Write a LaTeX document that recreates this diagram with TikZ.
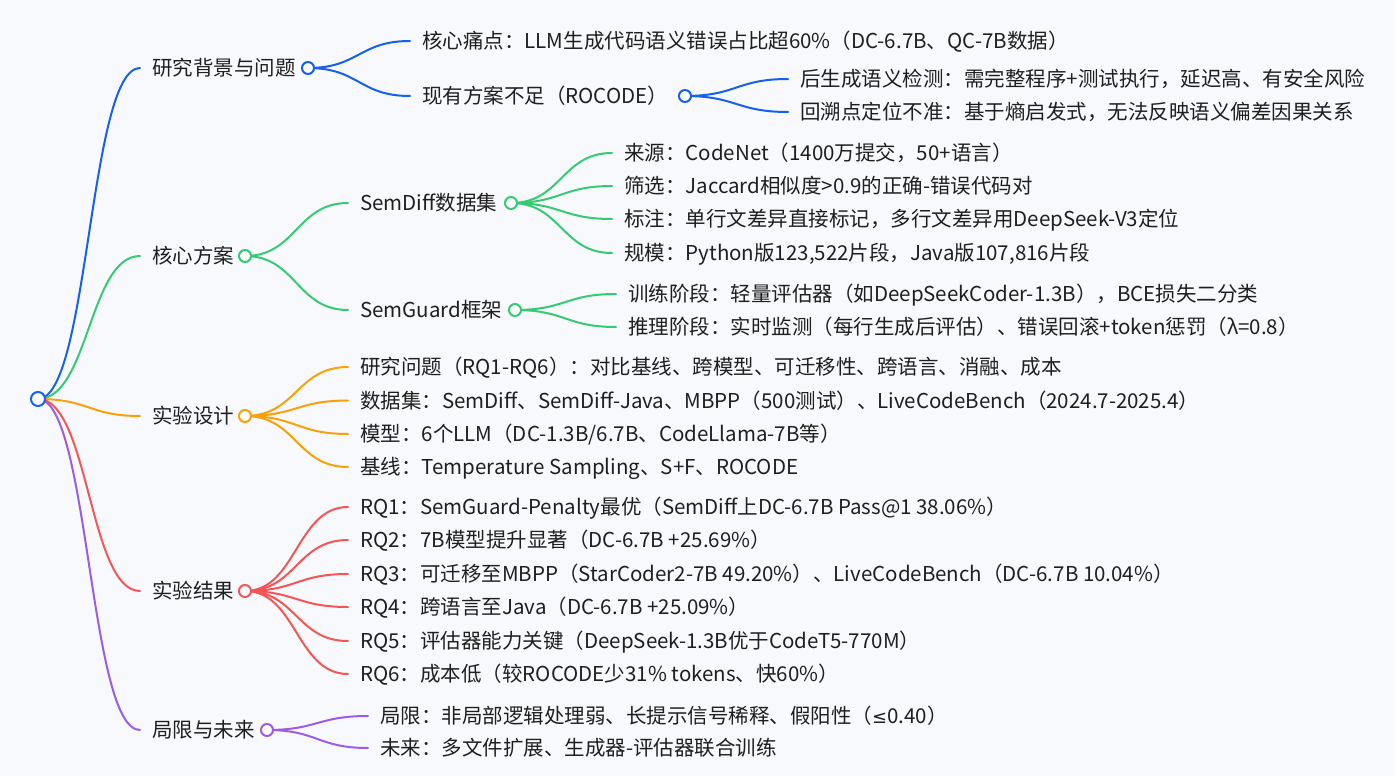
\documentclass[tikz,border=0pt]{standalone}
\usepackage{fontspec}
\setmainfont{Noto Sans CJK SC}
\newfontfamily\symf{DejaVu Sans}
\usetikzlibrary{calc}
\definecolor{bg}{HTML}{F8F9FC}
\definecolor{txt}{HTML}{1F1F1F}
\definecolor{cblue}{HTML}{1660F0}
\definecolor{cgreen}{HTML}{35CB72}
\definecolor{corange}{HTML}{FAA00A}
\definecolor{cred}{HTML}{F45555}
\definecolor{cpurple}{HTML}{9D5CE6}
\newcommand\mmlink[3]{\draw[lnk=#1] let \p1=(#2), \p2=(#3) in (\p1) .. controls ({(\x1+\x2)/2},\y1) and ({(\x1+\x2)/2},\y2) .. (\p2);}
\begin{document}
\begin{tikzpicture}[x=1pt,y=-1pt,
  lbl/.style={anchor=west,inner sep=0pt,font=\fontsize{20.5}{24}\selectfont,text=txt,text height=16pt,text depth=0.5pt},
  knob/.style={circle,draw=#1,fill=white,line width=2pt,minimum size=12pt,inner sep=0pt},
  lnk/.style={draw=#1,line width=2pt,line cap=round}]
\fill[bg] (0,0) rectangle (1395,776);
\useasboundingbox (0,0) rectangle (1395,776);

% level 1
\node[lbl] (n1) at (152,68) {研究背景与问题};
\node[lbl] (n2) at (152,256) {核心方案};
\node[lbl] (n3) at (152,416) {实验设计};
\node[lbl] (n4) at (152,591) {实验结果};
\node[lbl] (n5) at (152,730) {局限与未来};

% level 2
\node[lbl] (n11) at (422,41) {核心痛点：LLM生成代码语义错误占比超60\%（DC-6.7B、QC-7B数据）};
\node[lbl] (n12) at (422,96) {现有方案不足（ROCODE）};
\node[lbl] (n121) at (800,79) {后生成语义检测：需完整程序+测试执行，延迟高、有安全风险};
\node[lbl] (n122) at (800,112) {回溯点定位不准：基于熵启发式，无法反映语义偏差因果关系};

\node[lbl] (n21) at (360,203) {SemDiff数据集};
\node[lbl] (n211) at (624,153) {来源：CodeNet（1400万提交，50+语言）};
\node[lbl] (n212) at (624,186) {筛选：Jaccard相似度>0.9的正确-错误代码对};
\node[lbl] (n213) at (624,219) {标注：单行文差异直接标记，多行文差异用DeepSeek-V3定位};
\node[lbl] (n214) at (624,253) {规模：Python版123,522片段，Java版107,816片段};
\node[lbl] (n22) at (360,310) {SemGuard框架};
\node[lbl] (n221) at (628,294) {训练阶段：轻量评估器（如DeepSeekCoder-1.3B），BCE损失二分类};
\node[lbl] (n222) at (628,327) {推理阶段：实时监测（每行生成后评估）、错误回滚+token惩罚（λ=0.8）};

\node[lbl] (n31) at (360,367) {研究问题（RQ1-RQ6）：对比基线、跨模型、可迁移性、跨语言、消融、成本};
\node[lbl] (n32) at (360,400.5) {数据集：SemDiff、SemDiff-Java、MBPP（500测试）、LiveCodeBench（2024.7-2025.4）};
\node[lbl] (n33) at (360,434) {模型：6个LLM（DC-1.3B/6.7B、CodeLlama-7B等）};
\node[lbl] (n34) at (360,467) {基线：Temperature Sampling、S+F、ROCODE};

\node[lbl] (n41) at (360,507) {RQ1：SemGuard-Penalty最优（SemDiff上DC-6.7B Pass@1 38.06\%）};
\node[lbl] (n42) at (360,540) {RQ2：7B模型提升显著（DC-6.7B +25.69\%）};
\node[lbl] (n43) at (360,574) {RQ3：可迁移至MBPP（StarCoder2-7B 49.20\%）、LiveCodeBench（DC-6.7B 10.04\%）};
\node[lbl] (n44) at (360,607) {RQ4：跨语言至Java（DC-6.7B +25.09\%）};
\node[lbl] (n45) at (360,641) {RQ5：评估器能力关键（DeepSeek-1.3B优于CodeT5-770M）};
\node[lbl] (n46) at (360,674) {RQ6：成本低（较ROCODE少31\% tokens、快60\%）};

\node[lbl] (n51) at (380,716) {局限：非局部逻辑处理弱、长提示信号稀释、假阳性（{\symf\fontsize{18}{22}\selectfont ≤}0.40）};
\node[lbl] (n52) at (380,748) {未来：多文件扩展、生成器-评估器联合训练};

% circle centres
\coordinate (c0) at (38,399);
\coordinate (c1) at (308,68);
\coordinate (c2) at (245,256);
\coordinate (c3) at (245,416);
\coordinate (c4) at (245,591);
\coordinate (c5) at (267,730);
\coordinate (c12) at (685,96);
\coordinate (c21) at (511,203);
\coordinate (c22) at (515,310);

% link ends
\foreach \n in {n1,n2,n3,n4,n5,n11,n12,n121,n122,n21,n211,n212,n213,n214,n22,n221,n222,n31,n32,n33,n34,n41,n42,n43,n44,n45,n46,n51,n52}
  \coordinate (e\n) at ([xshift=-12pt]\n.west);

% links
\mmlink{cblue}{c0}{en1}
\mmlink{cgreen}{c0}{en2}
\mmlink{corange}{c0}{en3}
\mmlink{cred}{c0}{en4}
\mmlink{cpurple}{c0}{en5}

\mmlink{cblue}{c1}{en11}
\mmlink{cblue}{c1}{en12}
\mmlink{cblue}{c12}{en121}
\mmlink{cblue}{c12}{en122}

\mmlink{cgreen}{c2}{en21}
\mmlink{cgreen}{c2}{en22}
\foreach \k in {211,212,213,214} {\mmlink{cgreen}{c21}{en\k}}
\foreach \k in {221,222} {\mmlink{cgreen}{c22}{en\k}}

\foreach \k in {31,32,33,34} {\mmlink{corange}{c3}{en\k}}
\foreach \k in {41,42,43,44,45,46} {\mmlink{cred}{c4}{en\k}}
\foreach \k in {51,52} {\mmlink{cpurple}{c5}{en\k}}

% circles
\node[knob=cblue,minimum size=14pt] (k0) at (c0) {};
\node[knob=cblue] (k1) at (c1) {};
\node[knob=cgreen] (k2) at (c2) {};
\node[knob=corange] (k3) at (c3) {};
\node[knob=cred] (k4) at (c4) {};
\node[knob=cpurple] (k5) at (c5) {};
\node[knob=cblue] (k12) at (c12) {};
\node[knob=cgreen] (k21) at (c21) {};
\node[knob=cgreen] (k22) at (c22) {};
\end{tikzpicture}
\end{document}
